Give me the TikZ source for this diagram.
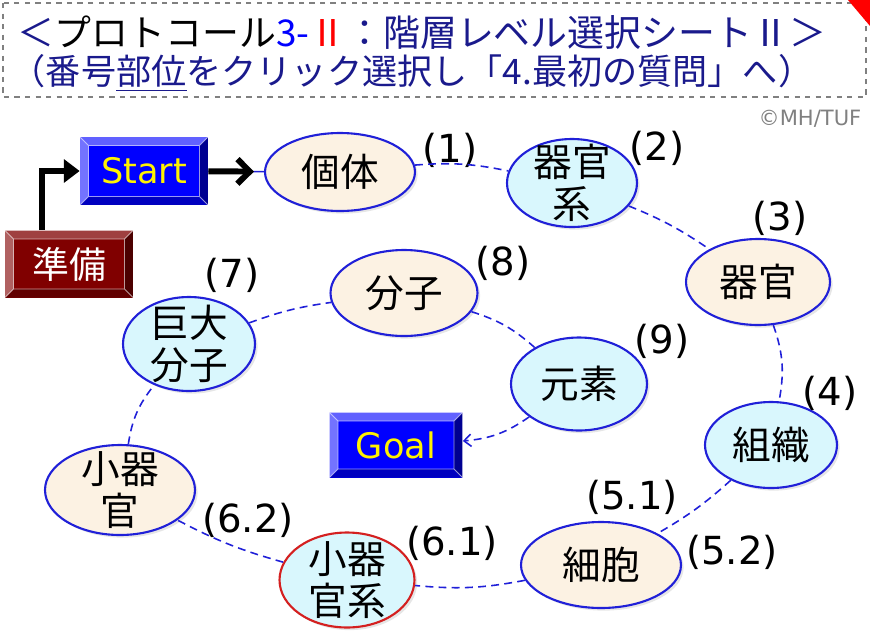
\documentclass[tikz,border=0pt]{standalone}
\usepackage{fontspec}
\setmainfont{Noto Sans CJK JP}
\newfontfamily\latinfont{DejaVu Sans}
\usetikzlibrary{arrows.meta, positioning, shapes.geometric, calc, shadows}
\definecolor{navy}{HTML}{1A1A8C}
\definecolor{linkblue}{HTML}{2020D8}
\definecolor{beige}{HTML}{FCF2E3}
\definecolor{icecyan}{HTML}{D9F7FD}
\definecolor{rimred}{HTML}{D42020}
\tikzset{%
   % levels of the hierarchy: ellipses in two alternating fills
   level/.style={
      ellipse,
      draw=linkblue,
      line width=1.2pt,
      inner sep=0pt,
      font=\fontsize{22}{24}\selectfont,
      drop shadow={opacity=.2, shadow xshift=1.5pt, shadow yshift=-1.5pt}
   },
   warm/.style={level, fill=beige},
   cool/.style={level, fill=icecyan},
   lvltext/.style={font=\fontsize{22}{24}\selectfont, align=center},
   twoline/.style={label={[lvltext]center:#1}},
   num/.style={font=\latinfont\fontsize{22}{24}\selectfont, inner sep=0pt},
   link/.style={
      linkblue,
      line width=.9pt,
      dash pattern=on 4.5pt off 3pt
   },
   fatline/.style={line width=3.4pt},
   % raised button: face, top, left, bottom, right
   bevel/.style n args={5}{
      rectangle,
      inner sep=0pt,
      fill=#1,
      font=\latinfont\fontsize{20}{24}\selectfont,
      path picture={
         \coordinate (bnw) at (path picture bounding box.north west);
         \coordinate (bne) at (path picture bounding box.north east);
         \coordinate (bsw) at (path picture bounding box.south west);
         \coordinate (bse) at (path picture bounding box.south east);
         \coordinate (inw) at ($(bnw)+(.17cm,-.17cm)$);
         \coordinate (ine) at ($(bne)+(-.17cm,-.17cm)$);
         \coordinate (isw) at ($(bsw)+(.17cm,.17cm)$);
         \coordinate (ise) at ($(bse)+(-.17cm,.17cm)$);
         \fill[#2] (bnw) -- (bne) -- (ine) -- (inw) -- cycle;
         \fill[#3] (bnw) -- (inw) -- (isw) -- (bsw) -- cycle;
         \fill[#4] (bsw) -- (isw) -- (ise) -- (bse) -- cycle;
         \fill[#5] (bne) -- (bse) -- (ise) -- (ine) -- cycle;
         \draw[white, opacity=.6, line width=.5pt]
            (bnw) -- (inw) -- (ine) -- (bne) (inw) -- (isw) -- (bsw)
            (isw) -- (ise) -- (bse) (ise) -- (ine);
      }
   },
   bluebutton/.style={bevel={blue}{blue!62!white}{blue!55!white}{blue!75!black}{blue!57!black},
      text=yellow},
   redbutton/.style={bevel={red!50!black}{red!50!black!75!white}{red!50!black!62!white}{red!38!black}{red!30!black},
      text=white, font=\fontsize{21}{24}\selectfont},
}

\begin{document}
\begin{tikzpicture}[x=.02cm, y=-.02cm]
   \useasboundingbox (0,0) rectangle (870,640);
   % header
   \draw[gray, dashed, line width=.6pt] (3,3) rectangle (866,97);
   \fill[red] (848,0) -- (870,0) -- (870,26) -- cycle;
   \node[font=\fontsize{21}{24}\selectfont] (title) at (422,33)
      {\textcolor{navy}{＜}プロトコール\textcolor{blue}{3-}\textcolor{red}{Ⅱ}\textcolor{navy}{：階層レベル選択シートⅡ＞}};
   \node[font=\fontsize{20}{24}\selectfont, text=navy] (guide) at (412,73)
      {（番号\underline{部位}をクリック選択し「4.最初の質問」へ）};
   \node[font=\latinfont\fontsize{12}{14}\selectfont, text=gray] (copy) at (810,119) {©MH/TUF};

   % buttons
   \node[redbutton, minimum width=2.56cm, minimum height=1.34cm] (jumbi) at (69,264) {準備};
   \node[bluebutton, minimum width=2.56cm, minimum height=1.36cm] (start) at (144,171) {Start};
   \node[bluebutton, minimum width=2.66cm, minimum height=1.3cm] (goal) at (396,445) {Goal};

   % levels
   \node[warm, minimum width=3cm, minimum height=1.56cm] (kotai) at (340,172) {個体};
   \node[cool, minimum width=2.6cm, minimum height=1.76cm, twoline=器官\\系] (kikankei) at (572,183) {};
   \node[warm, minimum width=2.88cm, minimum height=1.72cm] (kikan) at (758,282) {器官};
   \node[cool, minimum width=2.64cm, minimum height=1.72cm] (soshiki) at (771,445) {組織};
   \node[warm, minimum width=3.2cm, minimum height=1.72cm] (saibou) at (601,565) {細胞};
   \node[cool, draw=rimred, minimum width=2.7cm, minimum height=1.9cm, twoline=小器\\官系] (shoukikankei) at (347,580) {};
   \node[warm, minimum width=3cm, minimum height=1.8cm, twoline=小器\\官] (shoukikan) at (120,490) {};
   \node[cool, minimum width=2.64cm, minimum height=1.88cm, twoline=巨大\\分子] (kyodai) at (189,344) {};
   \node[warm, minimum width=2.94cm, minimum height=1.72cm] (bunshi) at (404,293) {分子};
   \node[cool, minimum width=2.72cm, minimum height=1.86cm] (genso) at (579,384) {元素};

   % numbers
   \node[num] (n1) at (450,150) {(1)};
   \node[num] (n2) at (657,148) {(2)};
   \node[num] (n3) at (780,218) {(3)};
   \node[num] (n4) at (830,393) {(4)};
   \node[num] (n51) at (632,497) {(5.1)};
   \node[num] (n52) at (732,552) {(5.2)};
   \node[num] (n61) at (452,543) {(6.1)};
   \node[num] (n62) at (248,520) {(6.2)};
   \node[num] (n7) at (232,275) {(7)};
   \node[num] (n8) at (503,263) {(8)};
   \node[num] (n9) at (662,341) {(9)};

   % connectors
   \draw[fatline, -{Triangle[length=9pt, width=13pt]}] ($(jumbi.north)+(-27,0)$) |- (start.west);
   \draw[linkblue, line width=.8pt] (start) -- (kotai);
   \draw[fatline, shorten >=.2cm, -{Straight Barb[length=7pt, width=14pt]}] (start) -- (kotai);
   \draw[link] (kotai) to[bend left=8] (kikankei);
   \draw[link] (kikankei) to[bend left=6] (kikan);
   \draw[link] (kikan) to[bend left=15] (soshiki);
   \draw[link] (soshiki) to[bend left=6] (saibou);
   \draw[link] (saibou) to[bend left=8] (shoukikankei);
   \draw[link] (shoukikankei) to[bend left=6] (shoukikan);
   \draw[link] (shoukikan) to[bend left=15] (kyodai);
   \draw[link] (kyodai) to[bend left=6] (bunshi);
   \draw[link] (bunshi) to[bend left=12] (genso);
   \draw[link, -{Straight Barb[length=4pt, width=7pt]}] (genso) to[bend left=15] (goal);
\end{tikzpicture}
\end{document}
